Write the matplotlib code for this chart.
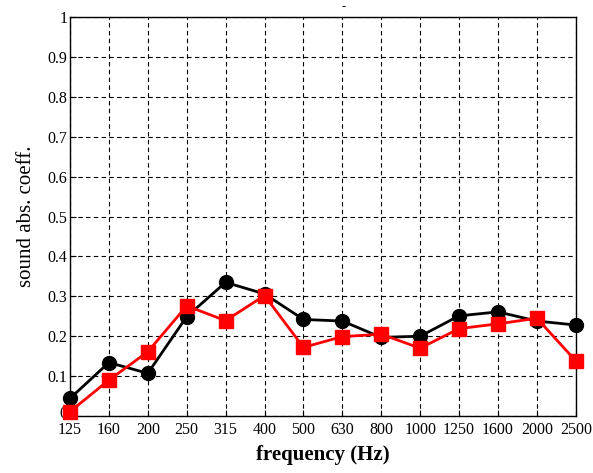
import matplotlib
matplotlib.use("Agg")
import matplotlib.pyplot as plt
import matplotlib.transforms as mtransforms

categories = ["125", "160", "200", "250", "315", "400", "500", "630", "800", "1000", "1250", "1600", "2000", "2500"]
black_vals = [0.044, 0.134, 0.107, 0.249, 0.335, 0.306, 0.242, 0.238, 0.197, 0.200, 0.251, 0.261, 0.238, 0.228]
red_vals = [0.011, 0.090, 0.161, 0.276, 0.239, 0.302, 0.172, 0.199, 0.205, 0.170, 0.219, 0.231, 0.245, 0.138]
yticks = [0, 0.1, 0.2, 0.3, 0.4, 0.5, 0.6, 0.7, 0.8, 0.9, 1]
ytick_labels = ["0", "0.1", "0.2", "0.3", "0.4", "0.5", "0.6", "0.7", "0.8", "0.9", "1"]

plt.rcParams['font.family'] = ['Liberation Serif', 'DejaVu Serif']

fig = plt.figure(figsize=(5.93, 4.73), dpi=100)
ax = fig.add_axes([0.118, 0.1205, 0.853, 0.8435])

x = list(range(len(categories)))
ax.plot(x, black_vals, color='black', lw=2, marker='o', ms=10, zorder=3, clip_on=False)
ax.plot(x, red_vals, color='red', lw=2, marker='s', ms=10, zorder=4, clip_on=False)

ax.set_xlim(0, len(categories) - 1)
ax.set_ylim(0, 1)
ax.set_xticks(x)
ax.set_xticklabels(categories, fontsize=11.5)
ax.set_yticks(yticks)
ax.set_yticklabels(ytick_labels, fontsize=11.5)
ax.tick_params(direction='in', length=4)
ax.tick_params(axis='x', pad=4)
ax.tick_params(axis='y', pad=2)
ax.grid(True, color='black', linestyle=(0, (4, 3)), linewidth=0.8)
for s in ax.spines.values():
    s.set_linewidth(1)

# nudge the "0" y tick label up slightly so it clears the "125" label
zero_lbl = ax.get_yticklabels()[0]
zero_lbl.set_transform(zero_lbl.get_transform() + mtransforms.ScaledTranslation(0, 4 / 100, fig.dpi_scale_trans))

ax.set_xlabel("frequency (Hz)", fontsize=15, fontweight='bold', labelpad=5)
ax.set_ylabel("sound abs. coeff.", fontsize=15, labelpad=8)
fig.text(0.579, 0.985, "-", fontsize=9, ha='center', va='center')

fig.savefig("out.png", dpi=100)
